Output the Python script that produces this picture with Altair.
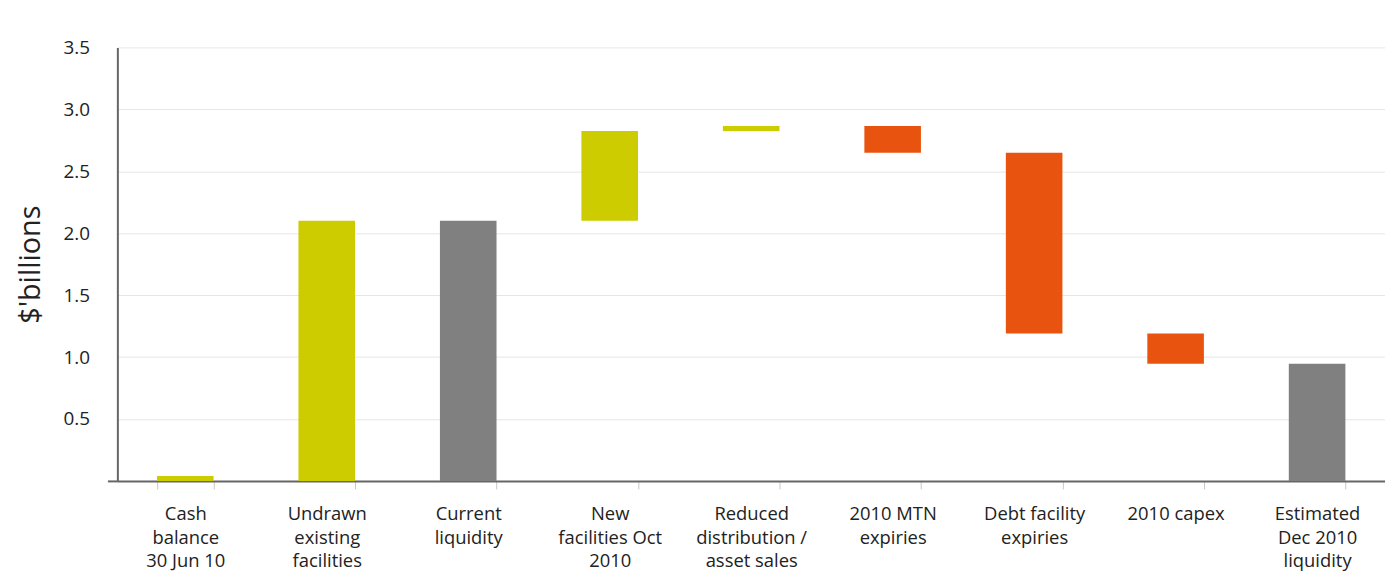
import altair as alt
import pandas as pd

categories = [
    "Cash balance 30 Jun 10",
    "Undrawn existing facilities",
    "Current liquidity",
    "New facilities Oct 2010",
    "Reduced distribution / asset sales",
    "2010 MTN expiries",
    "Debt facility expiries",
    "2010 capex",
    "Estimated Dec 2010 liquidity",
]
label_lines = [
    ["Cash", "balance", "30 Jun 10"],
    ["Undrawn", "existing", "facilities"],
    ["Current", "liquidity"],
    ["New", "facilities Oct", "2010"],
    ["Reduced", "distribution /", "asset sales"],
    ["2010 MTN", "expiries"],
    ["Debt facility", "expiries"],
    ["2010 capex"],
    ["Estimated", "Dec 2010", "liquidity"],
]
starts = [0.0, 0.0, 0.0, 2.10, 2.825, 2.865, 2.65, 1.19, 0.0]
ends = [0.04, 2.10, 2.10, 2.825, 2.865, 2.65, 1.19, 0.945, 0.945]
kinds = ["increase", "increase", "total", "increase", "increase",
         "decrease", "decrease", "decrease", "total"]

df = pd.DataFrame({"category": categories, "start": starts, "end": ends, "kind": kinds})

obj = "{" + ",".join(
    "'" + c + "':[" + ",".join("'" + l + "'" for l in ls) + "]"
    for c, ls in zip(categories, label_lines)
) + "}"
label_expr = obj + "[datum.label]"

FONT = "Open Sans"

chart = alt.Chart(df).mark_bar().encode(
    x=alt.X(
        "category:N",
        sort=categories,
        scale=alt.Scale(paddingInner=0.6, paddingOuter=0.28),
        axis=alt.Axis(
            title=None,
            labelAngle=0,
            labelExpr=label_expr,
            labelFont=FONT,
            labelFontSize=18.5,
            labelColor="#222222",
            labelLineHeight=23.5,
            labelPadding=16,
            labelBaseline="top",
            tickBand="extent",
            tickSize=8,
            tickColor="#c8c8c8",
            domainColor="#666666",
            domainWidth=2,
        ),
    ),
    y=alt.Y(
        "start:Q",
        scale=alt.Scale(domain=[0, 3.5], nice=False),
        axis=alt.Axis(
            title="$'billions",
            values=[0, 0.5, 1.0, 1.5, 2.0, 2.5, 3.0, 3.5],
            labelExpr="datum.value == 0 ? '' : format(datum.value, '.1f')",
            labelFont=FONT,
            labelFontSize=19,
            labelColor="#222222",
            labelPadding=18,
            tickSize=10,
            tickColor={"condition": {"test": "datum.value == 0", "value": "#666666"}, "value": "transparent"},
            tickWidth=2,
            domainColor="#666666",
            domainWidth=2,
            gridColor="#e6e6e6",
            gridWidth=1,
            titleFont=FONT,
            titleFontSize=29,
            titleFontWeight="normal",
            titleColor="#222222",
            titlePadding=18,
        ),
    ),
    y2="end:Q",
    color=alt.Color(
        "kind:N",
        scale=alt.Scale(domain=["increase", "decrease", "total"],
                        range=["#CCCC00", "#E8540F", "#808080"]),
        legend=None,
    ),
).properties(
    width=1275,
    height=436,
    autosize=alt.AutoSizeParams(type="none"),
    padding={"left": 110, "top": 38, "right": 0, "bottom": 98},
).configure_view(stroke=None).configure_axisX(grid=False)

chart.save("out.html", embed_options={"renderer": "svg", "actions": False})
